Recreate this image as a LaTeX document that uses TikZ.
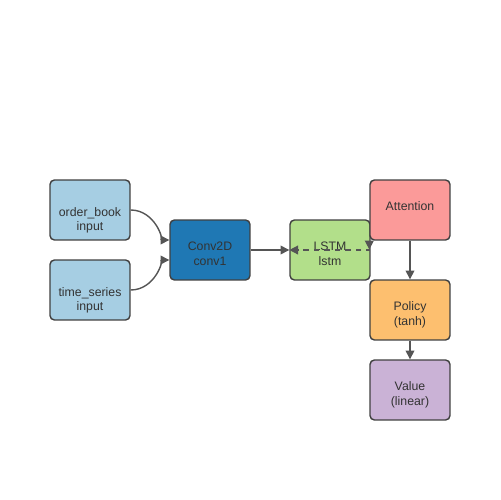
\documentclass[tikz,border=0pt]{standalone}
\usepackage{fontspec}
\setmainfont{Liberation Sans}
\usetikzlibrary{arrows.meta, positioning}

\definecolor{inblue}{HTML}{A6CEE3}
\definecolor{convblue}{HTML}{1F78B4}
\definecolor{lstmgreen}{HTML}{B2DF8A}
\definecolor{attnred}{HTML}{FB9A99}
\definecolor{polorange}{HTML}{FDBF6F}
\definecolor{valpurple}{HTML}{CAB2D6}
\definecolor{edgegray}{HTML}{555555}
\definecolor{txtgray}{HTML}{333333}

% text moved up or down inside its box
\newcommand{\boxtext}[2]{\raisebox{#1}[\height][\depth]{\begin{tabular}{@{}c@{}}#2\end{tabular}}}

\begin{document}
\begin{tikzpicture}[
    x=0.02cm, y=-0.02cm,
    layer/.style={font=\fontsize{7}{8.5}\selectfont, text=txtgray, minimum width=1.6cm, minimum height=1.2cm,
      draw=black!75, line width=0.8pt, rounded corners=2.5pt, align=center, inner sep=1pt},
    edge/.style={draw=edgegray, line width=0.8pt, -{Triangle[length=5pt, width=5pt]}},
    dashedge/.style={draw=edgegray, line width=0.8pt, dashed, {Triangle[reversed, length=5pt, width=5pt]}-{Triangle[length=5pt, width=5pt]}}
]
  \useasboundingbox (0,0) rectangle (500,500);

  % Inputs
  \node[layer, fill=inblue] (book) at (90,210) {\boxtext{-6pt}{order\_book\\input}};
  \node[layer, fill=inblue] (series) at (90,290) {\boxtext{-6pt}{time\_series\\input}};

  % Feature layers
  \node[layer, fill=convblue] (conv) at (210,250) {\boxtext{-3pt}{Conv2D\\conv1}};
  \node[layer, fill=lstmgreen] (lstm) at (330,250) {\boxtext{-3pt}{LSTM\\lstm}};

  % Heads
  \node[layer, fill=attnred] (attn) at (410,210) {\boxtext{1.2pt}{Attention}};
  \node[layer, fill=polorange] (policy) at (410,310) {\boxtext{-3pt}{Policy\\(tanh)}};
  \node[layer, fill=valpurple] (value) at (410,390) {\boxtext{-3pt}{Value\\(linear)}};

  % Connectors
  \draw[edge] (book.east) .. controls +(24,0) and +(-5,0) .. ([yshift=0.2cm]conv.west);
  \draw[edge] (series.east) .. controls +(24,0) and +(-5,0) .. ([yshift=-0.2cm]conv.west);
  \draw[edge] (conv) -- (lstm);
  \draw[dashedge] (attn.south west) |- (lstm.west);
  \draw[edge] (attn) -- (policy);
  \draw[edge] (policy) -- (value);

\end{tikzpicture}
\end{document}
